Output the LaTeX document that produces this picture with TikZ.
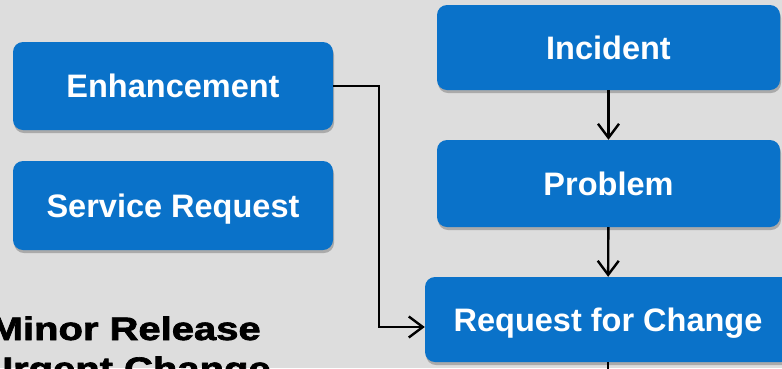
\documentclass[tikz,border=0pt]{standalone}
\usepackage{fontspec}
\setmainfont{Liberation Sans}
\newfontfamily\heavyfont[BoldFeatures={FakeBold=2}]{Liberation Sans}
\usepackage{tikz}
\usetikzlibrary{arrows.meta,shadows}

\definecolor{itilblue}{RGB}{10,114,201}
\definecolor{slidegray}{RGB}{221,221,221}

\tikzset{
  stage/.style={rectangle, rounded corners=10pt, fill=itilblue, text=white,
    font=\fontsize{32.5}{36}\selectfont\bfseries, inner sep=0pt,
    text height=23pt, text depth=0pt,
    drop shadow={shadow xshift=1pt, shadow yshift=-3pt, opacity=0.35, fill=black!70}},
  note/.style={font=\heavyfont\fontsize{32.5}{36}\selectfont\bfseries, text=black,
    inner sep=0pt, xscale=1.23},
  flow/.style={line width=2.4pt, ->},
}

\begin{document}
\begin{tikzpicture}[x=1pt,y=-1pt,>={Straight Barb[length=14pt,width=21pt,line width=2.4pt]}]
        \useasboundingbox (0,0) rectangle (782,368);
        \clip (0,0) rectangle (782,368);
        \fill[slidegray] (0,0) rectangle (782,368);
        % left column
        \node[stage, minimum width=320pt, minimum height=88pt] (enh) at (173,86) {Enhancement};
        \node[stage, minimum width=320pt, minimum height=89pt] (srv) at (173,205.5) {Service Request};
        \node[note, anchor=base east] (minor) at (261,340) {Minor Release};
        \node[note, anchor=base east] (urgent) at (271,380) {Urgent Change};
        % right column
        \node[stage, minimum width=343pt, minimum height=85pt] (inc) at (608.5,47.5) {Incident};
        \node[stage, minimum width=343pt, minimum height=87pt] (prob) at (608.5,183.5) {Problem};
        \node[stage, minimum width=366pt, minimum height=85pt] (rfc) at (608,319.5) {Request for Change};
        % connectors
        \coordinate (bend) at (379,327);
        \coordinate (below) at (608,390);
        \draw[flow] (inc) -- (prob);
        \draw[flow] (prob) -- (rfc);
        \draw[line width=2.4pt] (rfc) -- (below);
        \draw[flow] (enh) -| (bend) -- (bend -| rfc.west);
      \end{tikzpicture}
\end{document}
